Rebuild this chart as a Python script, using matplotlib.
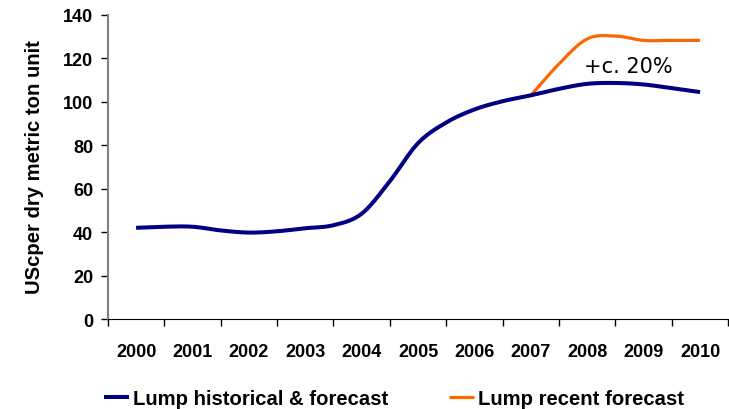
import matplotlib
matplotlib.use("Agg")
import matplotlib.pyplot as plt
import numpy as np

plt.rcParams['font.family'] = ['Liberation Sans', 'DejaVu Sans']

years = ['2000', '2001', '2002', '2003', '2004', '2005',
         '2006', '2007', '2008', '2009', '2010']

# semi-annual price points, 2000.0 .. 2010.0
hist_t = np.arange(0, 10.01, 0.5)
hist_price = [42.0, 42.5, 42.5, 40.8, 39.8, 40.4, 41.8, 43.2, 48.5, 63.5, 81.0,
              90.5, 96.5, 100.3, 103.0, 106.0, 108.3, 108.7, 108.0, 106.3, 104.5]

recent_t = np.arange(7, 10.01, 0.5)
recent_price = [103.0, 117.5, 129.0, 130.3, 128.3, 128.3, 128.3]

note = '+c. 20%'


def smooth(t, y, n=20):
    # Catmull-Rom curve through the points, like a smoothed spreadsheet line
    t = np.asarray(t, float)
    y = np.asarray(y, float)
    pt = np.concatenate([[2 * t[0] - t[1]], t, [2 * t[-1] - t[-2]]])
    py = np.concatenate([[2 * y[0] - y[1]], y, [2 * y[-1] - y[-2]]])
    xs, ys = [], []
    for i in range(1, len(pt) - 2):
        s = np.linspace(0, 1, n, endpoint=False)
        for arr, out in ((pt, xs), (py, ys)):
            p0, p1, p2, p3 = arr[i - 1], arr[i], arr[i + 1], arr[i + 2]
            out.extend(0.5 * ((2 * p1) + (-p0 + p2) * s
                              + (2 * p0 - 5 * p1 + 4 * p2 - p3) * s ** 2
                              + (-p0 + 3 * p1 - 3 * p2 + p3) * s ** 3))
    xs.append(t[-1])
    ys.append(y[-1])
    return np.array(xs), np.array(ys)


fig = plt.figure(figsize=(7.29, 4.10), dpi=100)
ax = fig.add_axes([0.148, 0.2195, 0.851, 0.7415])

hx, hy = smooth(hist_t, hist_price)
rx, ry = smooth(recent_t, recent_price)
ax.plot(rx, ry, color='#FF6600', lw=2.3, solid_capstyle='butt',
        label='Lump recent forecast', zorder=2)
ax.plot(hx, hy, color='#000080', lw=2.9, solid_capstyle='butt',
        label='Lump historical & forecast', zorder=3)

ax.text(8.72, 116.5, note, fontsize=15, family='DejaVu Sans', ha='center', va='center')

ax.set_xlim(-0.5, 10.5)
ax.set_ylim(0, 140)
ax.set_yticks(np.arange(0, 141, 20))
ax.tick_params(axis='y', length=5, width=1, pad=5.5, labelsize=13)
for lbl in ax.get_yticklabels():
    lbl.set_fontweight('bold')

ax.set_xticks(np.arange(-0.5, 10.6, 1))
ax.set_xticklabels([])
ax.tick_params(axis='x', which='major', length=5, width=1)
ax.set_xticks(np.arange(11), minor=True)
ax.set_xticklabels(years, minor=True, fontsize=13, fontweight='bold')
ax.tick_params(axis='x', which='minor', length=0, pad=17)

ax.spines['top'].set_visible(False)
ax.spines['right'].set_visible(False)
ax.spines['left'].set_color('#808080')
ax.spines['left'].set_linewidth(1.5)
ax.spines['bottom'].set_color('black')

fig.text(35 / 729, 1 - 167 / 410, 'UScper dry metric ton unit', rotation=90,
         ha='center', va='center', fontsize=14.6, fontweight='bold')

h, l = ax.get_legend_handles_labels()
fig.legend(h[::-1], l[::-1], loc='center', bbox_to_anchor=(394 / 729, 0.026), ncol=2,
           frameon=False, handlelength=1.25, handletextpad=0.2, columnspacing=3.0,
           prop={'size': 14.6, 'weight': 'bold'})

fig.savefig('out.png', dpi=100)
